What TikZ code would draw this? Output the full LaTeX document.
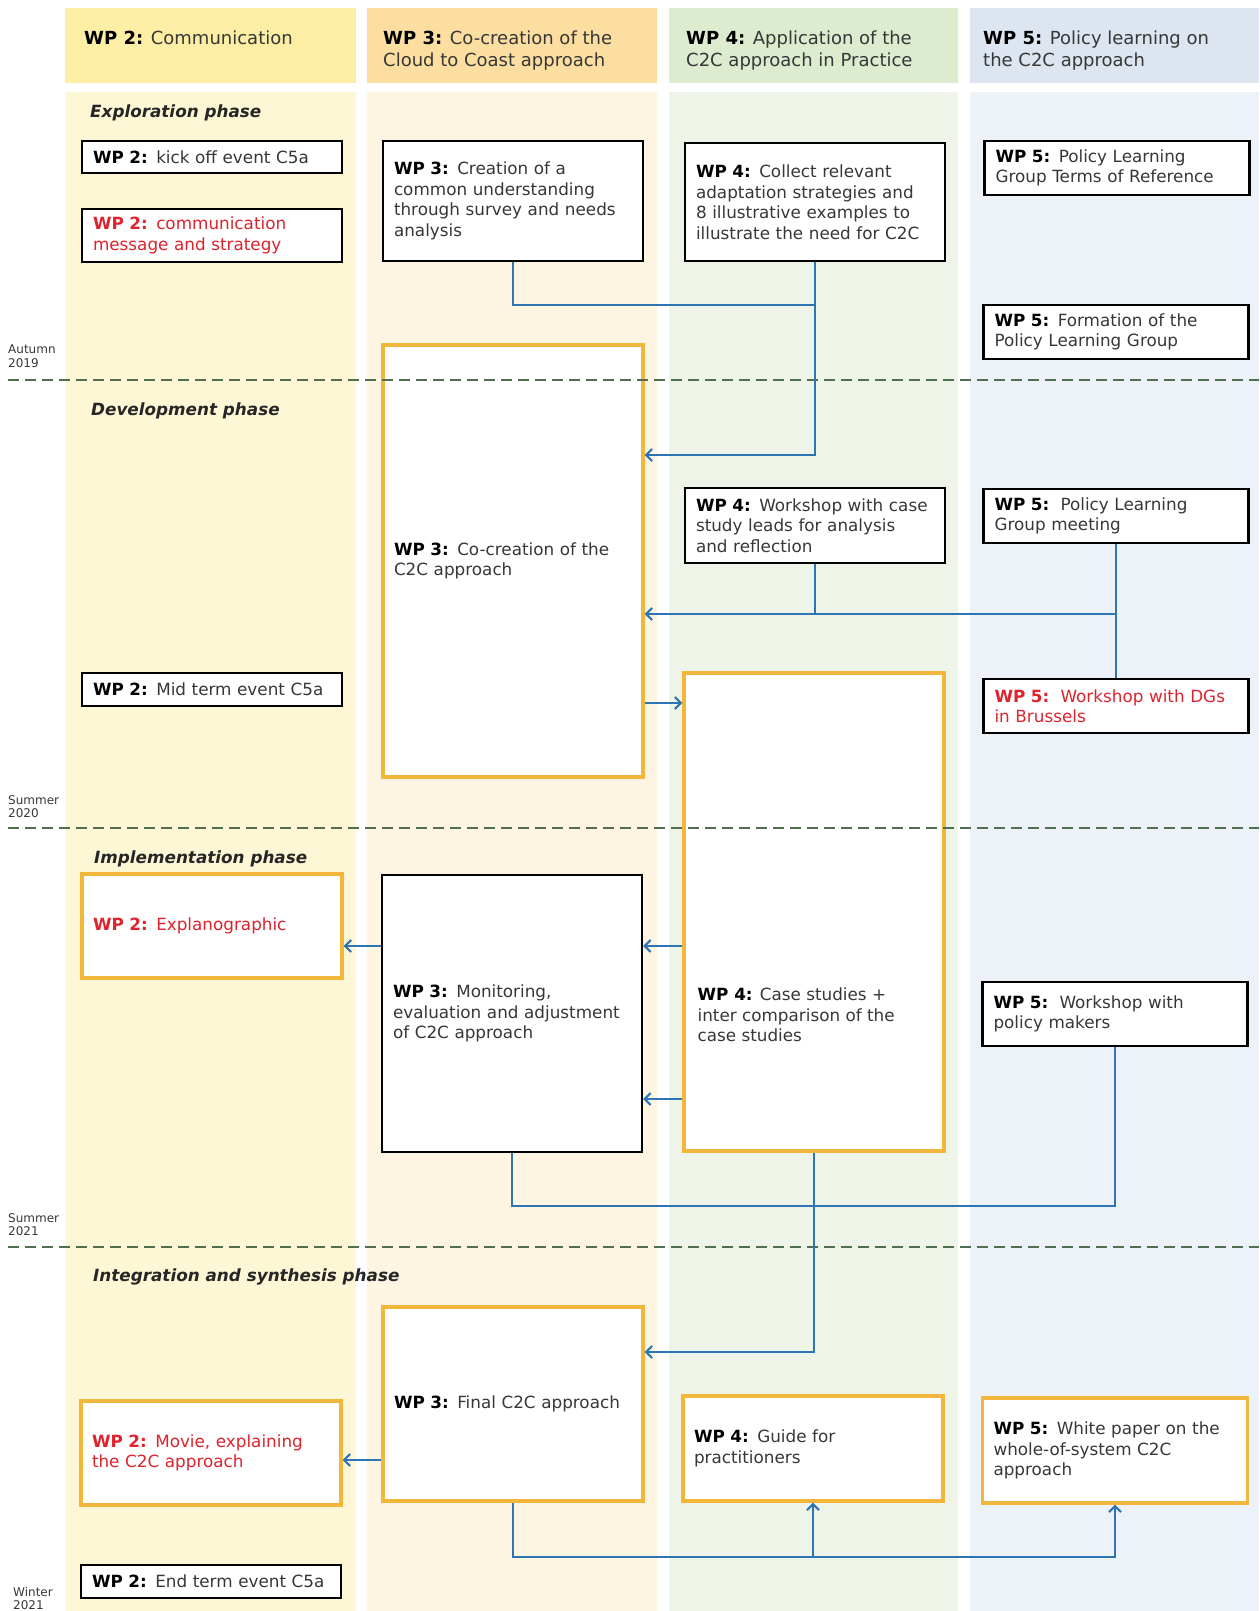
\documentclass[tikz,border=0pt]{standalone}
\usepackage{fontspec}
\setmainfont{DejaVu Sans}
\usepackage{xcolor}
\usepackage{tikz}
\usetikzlibrary{arrows.meta,positioning,calc}

\definecolor{hdtwo}{RGB}{252,238,165}
\definecolor{bdtwo}{RGB}{254,247,214}
\definecolor{hdthree}{RGB}{252,222,160}
\definecolor{bdthree}{RGB}{254,244,226}
\definecolor{hdfour}{RGB}{221,235,207}
\definecolor{bdfour}{RGB}{238,245,232}
\definecolor{hdfive}{RGB}{221,229,240}
\definecolor{bdfive}{RGB}{237,242,248}
\definecolor{boxorange}{RGB}{242,182,58}
\definecolor{linkblue}{RGB}{46,117,182}
\definecolor{sepgreen}{RGB}{80,110,80}
\definecolor{txtgrey}{RGB}{55,55,55}
\definecolor{boxred}{RGB}{222,35,45}

\newcommand{\wpn}[1]{{\color{black}\bfseries WP #1:}}
\newcommand{\wpr}[1]{{\bfseries WP #1:}}

\begin{document}
\begin{tikzpicture}[x=1pt,y=-1pt,
    every node/.style={font=\fontsize{16.8}{20.5}\selectfont},
    box/.style  ={rectangle,draw=black,line width=2.2pt,fill=white,
                  text=txtgrey,align=left,inner xsep=11pt,text width=238pt},
    obox/.style ={box,draw=boxorange,line width=3.2pt},
    rbox/.style ={text=boxred},
    wide/.style ={text width=243pt},
    head/.style ={anchor=north west,align=left,inner sep=0pt,text=txtgrey,
                  font=\fontsize{18}{21.7}\selectfont},
    phase/.style={anchor=base west,inner sep=0pt,text=black!85,
                  font=\fontsize{16.8}{20.5}\selectfont\bfseries\itshape},
    when/.style ={anchor=north west,align=left,inner sep=0pt,text=txtgrey,
                  font=\fontsize{12}{13.5}\selectfont},
    link/.style ={linkblue,line width=2.2pt},
    arr/.style  ={link,-{Straight Barb[length=6pt,width=12pt]}},
    sep/.style  ={sepgreen,line width=1.6pt,dash pattern=on 11pt off 6pt},
  ]
  \useasboundingbox (0,0) rectangle (1259,1611);

  % Columns: header band + body
  \fill[hdtwo]   (65,8)   rectangle (356,83);
  \fill[bdtwo]   (65,92)  rectangle (356,1611);
  \fill[hdthree] (367,8)  rectangle (657,83);
  \fill[bdthree] (367,92) rectangle (657,1611);
  \fill[hdfour]  (669,8)  rectangle (958,83);
  \fill[bdfour]  (669,92) rectangle (958,1611);
  \fill[hdfive]  (970,8)  rectangle (1259,83);
  \fill[bdfive]  (970,92) rectangle (1259,1611);

  \node[head] (H2) at (84,31)  {\wpn{2} Communication};
  \node[head] (H3) at (383,31) {\wpn{3} Co-creation of the\\Cloud to Coast approach};
  \node[head] (H4) at (686,31) {\wpn{4} Application of the\\C2C approach in Practice};
  \node[head] (H5) at (983,31) {\wpn{5} Policy learning on\\the C2C approach};

  % Phases and dates
  \node[phase] (P1) at (90,117)   {Exploration phase};
  \node[phase] (P2) at (91,415)   {Development phase};
  \node[phase] (P3) at (94,863)   {Implementation phase};
  \node[phase] (P4) at (93,1281)  {Integration and synthesis phase};

  \node[when] (T1) at (8,345)   {Autumn\\2019};
  \node[when] (T2) at (8,795)   {Summer\\2020};
  \node[when] (T3) at (8,1213)  {Summer\\2021};
  \node[when] (T4) at (13,1587) {Winter\\2021};

  % WP 2 column
  \node[box,minimum height=32pt]       (KO) at (212,157)    {\wpn{2} kick off event C5a};
  \node[box,rbox,minimum height=53pt]  (CM) at (212,235.5)  {\wpr{2} communication\\message and strategy};
  \node[box,minimum height=33pt]       (MT) at (212,689.5)  {\wpn{2} Mid term event C5a};
  \node[obox,rbox,minimum height=104pt](EX) at (212,926)    {\wpr{2} Explanographic};
  \node[obox,rbox,minimum height=104pt](MV) at (211,1453)   {\wpr{2} Movie, explaining\\the C2C approach};
  \node[box,minimum height=33pt]       (ET) at (211,1581.5) {\wpn{2} End term event C5a};

  % WP 3 column
  \node[box,minimum height=120pt]  (CU) at (513,201)    {\wpn{3} Creation of a\\common understanding\\through survey and needs\\analysis};
  \node[obox,minimum height=432pt] (CC) at (513,561)    {\wpn{3} Co-creation of the\\C2C approach};
  \node[box,minimum height=277pt]  (MO) at (512,1013.5) {\wpn{3} Monitoring,\\evaluation and adjustment\\of C2C approach};
  \node[obox,minimum height=194pt] (FA) at (513,1404)   {\wpn{3} Final C2C approach};

  % WP 4 column
  \node[box,minimum height=118pt]  (CR) at (815,202)    {\wpn{4} Collect relevant\\adaptation strategies and\\8 illustrative examples to\\illustrate the need for C2C};
  \node[box,minimum height=75pt]   (WS) at (815,525.5)  {\wpn{4} Workshop with case\\study leads for analysis\\and reflection};
  \node[obox,minimum height=478pt] (CS) at (814,912)    {};
  \node[anchor=west,align=left,inner sep=0pt,text=txtgrey] (CST)
       at ([xshift=15pt,yshift=-103pt]CS.west) {\wpn{4} Case studies +\\inter comparison of the\\case studies};
  \node[obox,minimum height=105pt] (GP) at (813,1448.5) {\wpn{4} Guide for\\practitioners};

  % WP 5 column
  \node[box,wide,minimum height=54pt]  (TR) at (1117,168)    {\wpn{5} Policy Learning\\Group Terms of Reference};
  \node[box,wide,minimum height=54pt]  (FO) at (1116,332)    {\wpn{5} Formation of the\\Policy Learning Group};
  \node[box,wide,minimum height=54pt]  (PM) at (1116,516)    {\wpn{5}\ \ Policy Learning\\Group meeting};
  \node[box,wide,rbox,minimum height=54pt] (DG) at (1116,706) {\wpr{5}\ \ Workshop with DGs\\in Brussels};
  \node[box,wide,minimum height=64pt]  (WM) at (1115,1014)   {\wpn{5}\ \ Workshop with\\policy makers};
  \node[obox,wide,minimum height=105pt](WH) at (1115,1450.5) {\wpn{5} White paper on the\\whole-of-system C2C\\approach};

  % Phase separators
  \draw[sep] (8,380)  -- (1259,380);
  \draw[sep] (8,828)  -- (1259,828);
  \draw[sep] (8,1247) -- (1259,1247);

  % Exploration -> development
  \draw[link] (CU.south) -- ++(0,43) -| (CR.south);
  \draw[arr]  (CR.south) |- ([yshift=106pt]CC.east);
  \draw[link] (WS.south) -- ++(0,51);
  \draw[arr]  (PM.south) |- ([yshift=-53pt]CC.east);
  \draw[link] (PM.south) -- (DG.north);
  \draw[arr]  ([yshift=-142pt]CC.east) -- ([yshift=-142pt]CC.east -| CS.west);

  % Implementation
  \draw[arr]  ([yshift=-20pt]EX.east -| MO.west) -- ([yshift=-20pt]EX.east);
  \draw[arr]  ([yshift=-34pt]CS.west) -- ([yshift=-34pt]CS.west -| MO.east);
  \draw[arr]  ([yshift=-187pt]CS.west) -- ([yshift=-187pt]CS.west -| MO.east);
  \draw[link] (MO.south) -- ++(0,53) -| (WM.south);
  \draw[arr]  (CS.south) |- ([yshift=52pt]FA.east);

  % Integration and synthesis
  \draw[arr]  ([yshift=-56pt]FA.west) -- ([yshift=-56pt]FA.west -| MV.east);
  \draw[arr]  (FA.south) -- ++(0,54) -| (WH.south);
  \draw[arr]  ([yshift=-54pt]FA.south -| GP.south) -- (GP.south);
\end{tikzpicture}
\end{document}
